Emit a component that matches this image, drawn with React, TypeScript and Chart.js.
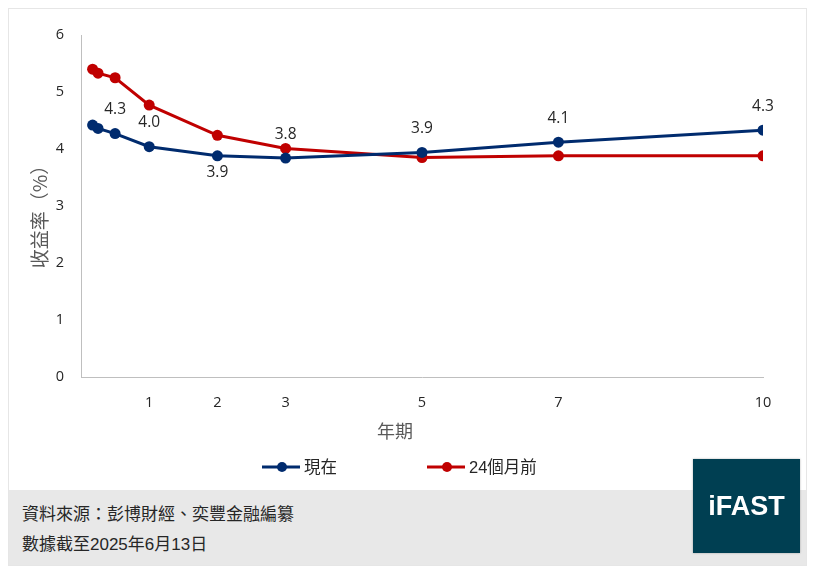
import React, { useRef, useEffect } from 'react'
import { Chart, registerables } from 'chart.js'

Chart.register(...registerables)

// tenor in years
const tenors = [0.17, 0.25, 0.5, 1, 2, 3, 5, 7, 10]
const currentYields = [4.42, 4.36, 4.27, 4.04, 3.88, 3.84, 3.94, 4.12, 4.33]
const prevYields = [5.4, 5.33, 5.25, 4.77, 4.24, 4.01, 3.85, 3.88, 3.88]
const xTickValues = [1, 2, 3, 5, 7, 10]
// which points of the current curve get a value label
const labelSide = [null, null, 'above', 'above', 'below', 'above', 'above', 'above', 'above']

const seriesNames = ['現在', '24個月前']
const BLUE = '#002b6e'
const RED = '#c00000'
const LATIN = "'Liberation Sans', 'Noto Sans CJK TC', sans-serif"
const NUM = "'Open Sans', 'Noto Sans CJK TC', sans-serif"

const overlay = {
  id: 'overlay',
  afterDatasetsDraw(chart: any) {
    const { ctx, chartArea } = chart
    ctx.save()

    // value labels on the current curve
    const meta = chart.getDatasetMeta(0)
    ctx.font = `15.5px ${NUM}`
    ctx.fillStyle = '#262626'
    ctx.textAlign = 'center'
    ctx.textBaseline = 'middle'
    meta.data.forEach((pt: any, i: number) => {
      const side = labelSide[i]
      if (!side) return
      const v = chart.data.datasets[0].data[i].y
      ctx.fillText(v.toFixed(1), pt.x, side === 'above' ? pt.y - 24 : pt.y + 17)
    })

    // axis titles
    ctx.fillStyle = '#595959'
    ctx.font = `18px 'Noto Sans CJK TC', sans-serif`
    ctx.fillText('年期', 386, 422)
    ctx.save()
    ctx.translate(31, (chartArea.top + chartArea.bottom) / 2 + 6)
    ctx.rotate(-Math.PI / 2)
    ctx.font = `19px 'Noto Sans CJK TC', sans-serif`
    ctx.fillText('收益率（%）', 0, 0)
    ctx.restore()

    // legend
    let lx = 253
    const ly = 458
    chart.data.datasets.forEach((ds: any) => {
      ctx.strokeStyle = ds.borderColor
      ctx.lineWidth = 3
      ctx.beginPath()
      ctx.moveTo(lx, ly)
      ctx.lineTo(lx + 38, ly)
      ctx.stroke()
      ctx.fillStyle = ds.borderColor
      ctx.beginPath()
      ctx.arc(lx + 20, ly, 5, 0, Math.PI * 2)
      ctx.fill()
      ctx.font = `16.5px ${LATIN}`
      ctx.fillStyle = '#262626'
      ctx.textAlign = 'left'
      ctx.fillText(ds.label, lx + 42, ly + 1)
      lx += 165
    })
    ctx.restore()
  },
}

const YieldChart = () => {
  const chartRef = useRef<HTMLCanvasElement>(null)

  useEffect(() => {
    if (!chartRef.current) return
    const chart = new Chart(chartRef.current, {
      type: 'line',
      data: {
        datasets: [
          {
            label: seriesNames[0],
            data: tenors.map((t, i) => ({ x: t, y: currentYields[i] })),
            borderColor: BLUE,
            backgroundColor: BLUE,
            borderWidth: 3,
            pointRadius: 5.5,
            pointBackgroundColor: BLUE,
            pointBorderWidth: 0,
          },
          {
            label: seriesNames[1],
            data: tenors.map((t, i) => ({ x: t, y: prevYields[i] })),
            borderColor: RED,
            backgroundColor: RED,
            borderWidth: 3,
            pointRadius: 5.5,
            pointBackgroundColor: RED,
            pointBorderWidth: 0,
          },
        ],
      },
      options: {
        animation: false,
        responsive: false,
        devicePixelRatio: 1,
        layout: { padding: { left: 0, top: 26, right: 43, bottom: 0 } },
        plugins: { legend: { display: false }, tooltip: { enabled: false } },
        scales: {
          x: {
            type: 'linear',
            min: 0,
            max: 10,
            grid: { display: false, drawTicks: false },
            border: { color: '#bfbfbf', width: 1 },
            afterBuildTicks: (scale: any) => {
              scale.ticks = xTickValues.map((v) => ({ value: v }))
            },
            afterFit: (scale: any) => {
              scale.height = 113
            },
            ticks: {
              padding: 17,
              color: '#262626',
              font: { family: NUM, size: 14.5 },
              autoSkip: false,
              maxRotation: 0,
            },
          },
          y: {
            min: 0,
            max: 6,
            grid: { display: false, drawTicks: false },
            border: { color: '#bfbfbf', width: 1 },
            afterFit: (scale: any) => {
              scale.width = 72
            },
            ticks: {
              stepSize: 1,
              padding: 17,
              color: '#262626',
              font: { family: NUM, size: 14.5 },
            },
          },
        },
      },
      plugins: [overlay],
    })
    return () => {
      chart.destroy()
    }
  }, [])

  return <canvas ref={chartRef} width={797} height={481} style={{ position: 'absolute', left: 0, top: 0 }} />
}

export default function App() {
  return (
    <div
      style={{
        position: 'relative',
        width: 799,
        height: 558,
        border: '1px solid #e6e6e6',
        boxSizing: 'border-box',
        background: '#fff',
        fontFamily: LATIN,
      }}
    >
      <YieldChart />
      <div
        style={{
          position: 'absolute',
          left: 0,
          top: 481,
          width: 797,
          height: 75,
          background: '#e8e8e8',
          color: '#262626',
          fontSize: 17,
        }}
      >
        <div style={{ position: 'absolute', left: 13, top: 10 }}>資料來源：彭博財經、奕豐金融編纂</div>
        <div style={{ position: 'absolute', left: 13, top: 40 }}>數據截至2025年6月13日</div>
      </div>
      <div
        style={{
          position: 'absolute',
          left: 684,
          top: 450,
          width: 107,
          height: 94,
          background: '#003f52',
          color: '#fff',
          fontWeight: 'bold',
          fontSize: 27,
          display: 'flex',
          alignItems: 'center',
          justifyContent: 'center',
          boxShadow: '0 0 2px rgba(0,0,0,0.3)',
        }}
      >
        iFAST
      </div>
    </div>
  )
}
